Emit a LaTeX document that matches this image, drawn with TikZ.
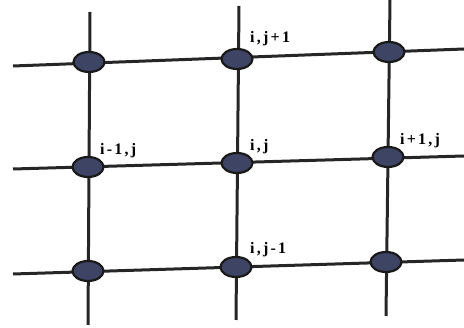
\documentclass[tikz,border=0pt]{standalone}
\usepackage{fontspec}
\setmainfont{Liberation Serif}
\usetikzlibrary{shapes.geometric}
\begin{document}
\begin{tikzpicture}[x=1pt,y=-1pt,
  grid/.style={line width=3pt, color=black!85},
  gpt/.style={ellipse, draw=black!90, line width=2.2pt, fill={rgb,255:red,62;green,68;blue,100}, minimum width=31pt, minimum height=20pt, inner sep=0pt},
  lbl/.style={font=\bfseries\fontsize{16}{17}\selectfont\addfontfeatures{LetterSpace=14}, anchor=south west, inner sep=0pt}]
\useasboundingbox (0,0) rectangle (464,328);
% free ends
\coordinate (L1) at (13,66);  \coordinate (R1) at (464,49);
\coordinate (L2) at (13,169); \coordinate (R2) at (464,156);
\coordinate (L3) at (13,274); \coordinate (R3) at (464,260);
\coordinate (T1) at (90,12);  \coordinate (B1) at (88,325);
\coordinate (T2) at (239,6);  \coordinate (B2) at (236,320);
\coordinate (T3) at (390,0);  \coordinate (B3) at (386,316);
% grid lines
\draw[grid] (L1) -- (R1);
\draw[grid] (L2) -- (R2);
\draw[grid] (L3) -- (R3);
\draw[grid] (T1) -- (B1);
\draw[grid] (T2) -- (B2);
\draw[grid] (T3) -- (B3);
% nodes
\node[gpt] (a1) at (89,62) {};
\node[gpt] (a2) at (237,59) {};
\node[gpt] (a3) at (389,52) {};
\node[gpt] (b1) at (88,167) {};
\node[gpt] (b2) at (237,163) {};
\node[gpt] (b3) at (388,157) {};
\node[gpt] (c1) at (88,271) {};
\node[gpt] (c2) at (236,267) {};
\node[gpt] (c3) at (386,262) {};
% labels
\node[lbl] (la2) at (250,46) {i,j+1};
\node[lbl] (lb1) at (100,158) {i-1,j};
\node[lbl] (lb2) at (250,154) {i,j};
\node[lbl] (lb3) at (400,148) {i+1,j};
\node[lbl] (lc2) at (250,257) {i,j-1};
\end{tikzpicture}
\end{document}
